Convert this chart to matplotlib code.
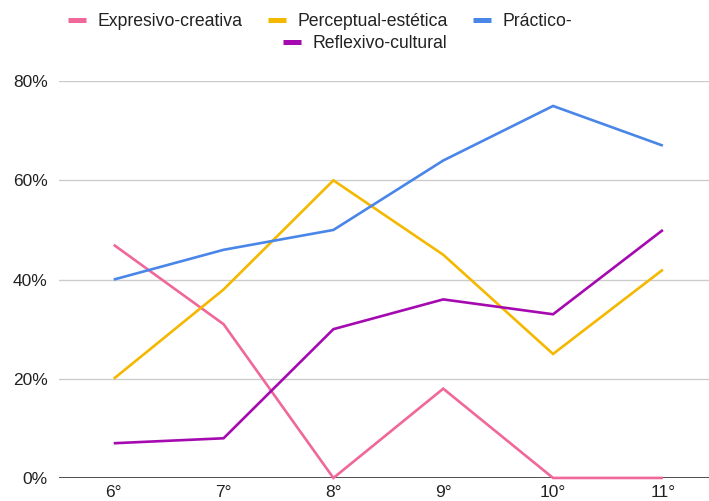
import matplotlib.pyplot as plt
from matplotlib.lines import Line2D
from matplotlib.ticker import PercentFormatter

plt.rcParams['font.family'] = ['Liberation Sans', 'DejaVu Sans']

grados = ['6°', '7°', '8°', '9°', '10°', '11°']
expresivo = [47, 31, 0, 18, 0, 0]
perceptual = [20, 38, 60, 45, 25, 42]
practico = [40, 46, 50, 64, 75, 67]
reflexivo = [7, 8, 30, 36, 33, 50]

series = [
    ('Expresivo-creativa', expresivo, '#f0679a'),
    ('Perceptual-estética', perceptual, '#f5b800'),
    ('Práctico-', practico, '#4a86e8'),
    ('Reflexivo-cultural', reflexivo, '#a50ab0'),
]

fig = plt.figure(figsize=(7.09, 5.01), dpi=100)
ax = fig.add_axes([0.083, 0.046, 0.917, 0.792])

x = list(range(len(grados)))
for nombre, valores, color in series:
    ax.plot(x, valores, color=color, lw=1.9, clip_on=False, zorder=3,
            solid_joinstyle='miter', solid_capstyle='butt')

ax.set_xlim(-0.5, 5.42)
ax.set_ylim(0, 80)
ax.set_yticks([0, 20, 40, 60, 80])
ax.yaxis.set_major_formatter(PercentFormatter(decimals=0))
ax.set_xticks(x)
ax.set_xticklabels(grados)
ax.tick_params(axis='both', length=0, labelsize=12.5, colors='#222222')
ax.tick_params(axis='y', pad=8)
ax.tick_params(axis='x', pad=5)
ax.grid(axis='y', color='#cccccc', lw=1)
ax.axhline(0, color='#333333', lw=1.2, zorder=2)
for s in ax.spines.values():
    s.set_visible(False)

# leyenda en dos filas como en Sheets
def entrada(nombre, color):
    return Line2D([], [], color=color, lw=3.6, solid_capstyle='butt', label=nombre)

h = [entrada(n, c) for n, _, c in series]
kw = dict(frameon=False, fontsize=12.7, handlelength=1.02, handletextpad=0.68,
          borderaxespad=0, borderpad=0, labelcolor='#222222')
fig.legend(handles=h[:3], ncol=3, loc='center left',
           bbox_to_anchor=(68 / 709, 1 - 22 / 501), columnspacing=1.4, **kw)
fig.legend(handles=h[3:], ncol=1, loc='center left',
           bbox_to_anchor=(283 / 709, 1 - 44 / 501), **kw)

fig.savefig('out.png', dpi=100)
